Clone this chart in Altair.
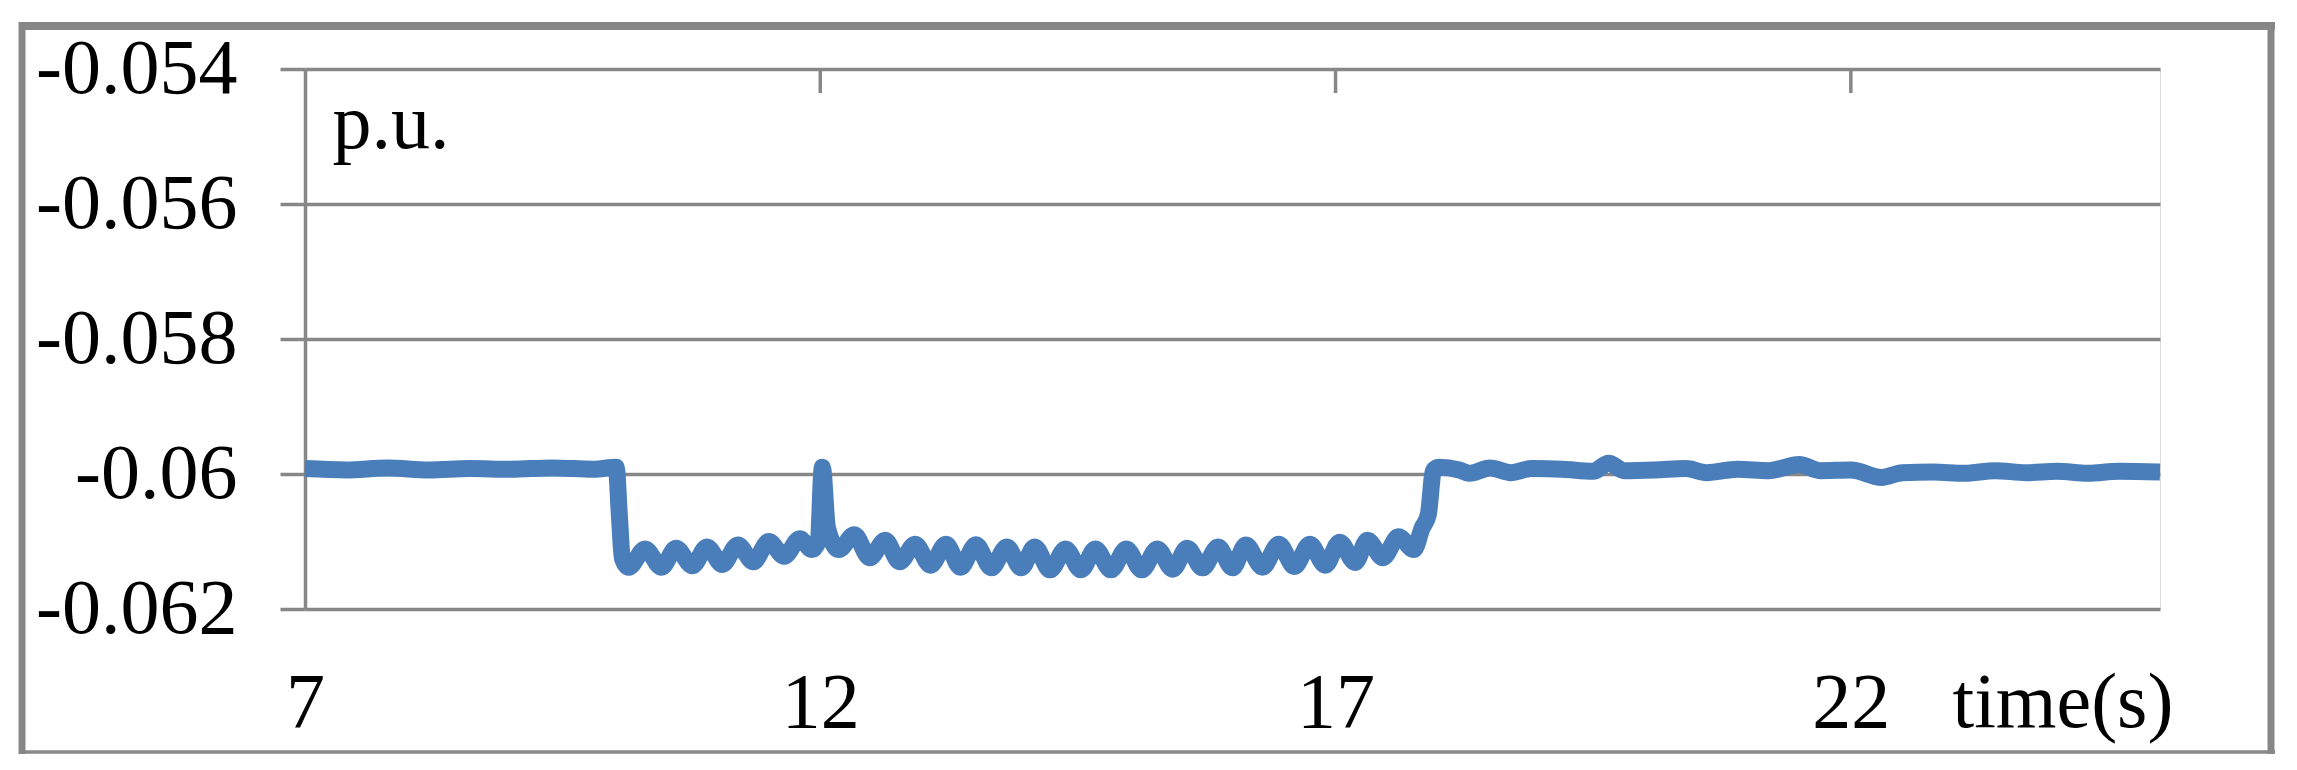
import altair as alt
import pandas as pd

# time (s)
t = [7.0, 7.4, 7.8, 8.2, 8.6, 9.0, 9.4, 9.8, 10.02, 10.05, 10.08,
     10.14, 10.30, 10.46, 10.60, 10.76, 10.90, 11.05, 11.20, 11.35, 11.50,
     11.65, 11.80, 11.92, 11.98, 12.02, 12.07, 12.18, 12.33, 12.48, 12.63,
     12.77, 12.92, 13.07, 13.22, 13.36, 13.51, 13.66, 13.81, 13.95, 14.08,
     14.23, 14.38, 14.53, 14.67, 14.82, 14.97, 15.12, 15.27, 15.42, 15.56,
     15.71, 15.86, 16.00, 16.13, 16.29, 16.45, 16.60, 16.75, 16.90, 17.04,
     17.19, 17.31, 17.46, 17.61, 17.76, 17.84, 17.90, 17.95, 18.00,
     18.2, 18.3, 18.5, 18.7, 18.9, 19.2, 19.5, 19.65, 19.8, 20.1, 20.4,
     20.6, 20.9, 21.2, 21.5, 21.7, 22.0, 22.3, 22.5, 22.8, 23.1, 23.4,
     23.7, 24.0, 24.3, 24.6, 25.0]

# value (p.u.)
v = [-0.05992, -0.05994, -0.05991, -0.05994, -0.05992, -0.05993, -0.05991,
     -0.05993, -0.05990, -0.06060, -0.06125,
     -0.06138, -0.06111, -0.06138, -0.06110, -0.06136, -0.06108, -0.06134,
     -0.06105, -0.06130, -0.06100, -0.06122, -0.06096, -0.06112, -0.06100,
     -0.05990, -0.06080, -0.06112, -0.06090, -0.06124, -0.06098, -0.06130,
     -0.06104, -0.06135, -0.06104, -0.06138, -0.06105, -0.06139, -0.06108,
     -0.06139, -0.06108, -0.06142, -0.06111, -0.06142, -0.06111, -0.06142,
     -0.06111, -0.06142, -0.06111, -0.06141, -0.06110, -0.06139, -0.06108,
     -0.06139, -0.06105, -0.06138, -0.06104, -0.06137, -0.06104, -0.06135,
     -0.06101, -0.06131, -0.06098, -0.06124, -0.06093, -0.06112, -0.06080,
     -0.06060, -0.05995, -0.05990,
     -0.05994, -0.05999, -0.05991, -0.05998, -0.05992, -0.05993, -0.05996,
     -0.05984, -0.05995, -0.05994, -0.05992, -0.05998, -0.05993, -0.05995,
     -0.05986, -0.05995, -0.05994, -0.06005, -0.05998, -0.05997, -0.05999,
     -0.05995, -0.05998, -0.05996, -0.05999, -0.05996, -0.05997]

y_ticks = [-0.062, -0.06, -0.058, -0.056, -0.054]
x_ticks = [7, 12, 17, 22]
top_marks = [12, 17, 22]

FONT = "Liberation Serif"
GRAY = "#878787"
FS = 78

df = pd.DataFrame({"t": t, "v": v})
x_scale = alt.Scale(domain=[7, 25], nice=False, zero=False)
y_scale = alt.Scale(domain=[-0.062, -0.054], nice=False, zero=False)

line = alt.Chart(df).mark_line(
    color="#4A7EBB", strokeWidth=17, strokeJoin="round", interpolate="monotone"
).encode(
    x=alt.X("t:Q", scale=x_scale, axis=alt.Axis(
        orient="bottom", values=x_ticks, format="d", grid=False, domain=False,
        ticks=False, tickSize=0, labelPadding=117, labelBaseline="alphabetic",
        labelFlush=False, labelLimit=0, labelFont=FONT, labelFontSize=FS,
        labelColor="black",
        title="time(s)", titleFont=FONT, titleFontSize=FS,
        titleFontWeight="normal", titleColor="black", titleX=1647, titleY=117,
        titleAlign="left", titleBaseline="alphabetic", titleLimit=0)),
    y=alt.Y("v:Q", scale=y_scale, axis=alt.Axis(
        values=y_ticks, grid=True, gridColor=GRAY, gridWidth=3.5,
        domain=True, domainColor=GRAY, domainWidth=3.5,
        ticks=True, tickSize=25, tickColor=GRAY, tickWidth=3.5,
        labelPadding=43, labelFlush=False, labelLimit=0,
        labelExpr="'-' + format(abs(datum.value), '.3~f')",
        labelFont=FONT, labelFontSize=FS, labelColor="black",
        title="p.u.", titleAngle=0, titleX=27, titleY=78,
        titleAlign="left", titleBaseline="alphabetic", titleFont=FONT,
        titleFontSize=FS, titleFontWeight="normal", titleColor="black",
        titleLimit=0)),
)

tops = alt.Chart(pd.DataFrame({"t": top_marks})).mark_rule(
    color=GRAY, strokeWidth=3.5
).encode(x=alt.X("t:Q", scale=x_scale), y=alt.value(0), y2=alt.value(24))

one = pd.DataFrame({"a": [0]})
frame_top = alt.Chart(one).mark_rule(color=GRAY, strokeWidth=8).encode(
    x=alt.value(-286), x2=alt.value(1970), y=alt.value(-43))
frame_left = alt.Chart(one).mark_rule(color=GRAY, strokeWidth=7).encode(
    x=alt.value(-283), y=alt.value(-47), y2=alt.value(685))
frame_right = alt.Chart(one).mark_rule(color=GRAY, strokeWidth=7).encode(
    x=alt.value(1966), y=alt.value(-47), y2=alt.value(685))
frame_bottom = alt.Chart(one).mark_rule(color=GRAY, strokeWidth=3.5).encode(
    x=alt.value(-286), x2=alt.value(1970), y=alt.value(683))

chart = alt.layer(line, tops, frame_top, frame_left, frame_right, frame_bottom).properties(
    width=1855, height=540,
    autosize=alt.AutoSizeParams(type="none"),
    padding={"left": 297, "top": 61, "right": 129, "bottom": 153},
).configure_view(stroke=None).configure(background="white")

chart.save("out.html", embed_options={"renderer": "svg", "actions": False})
